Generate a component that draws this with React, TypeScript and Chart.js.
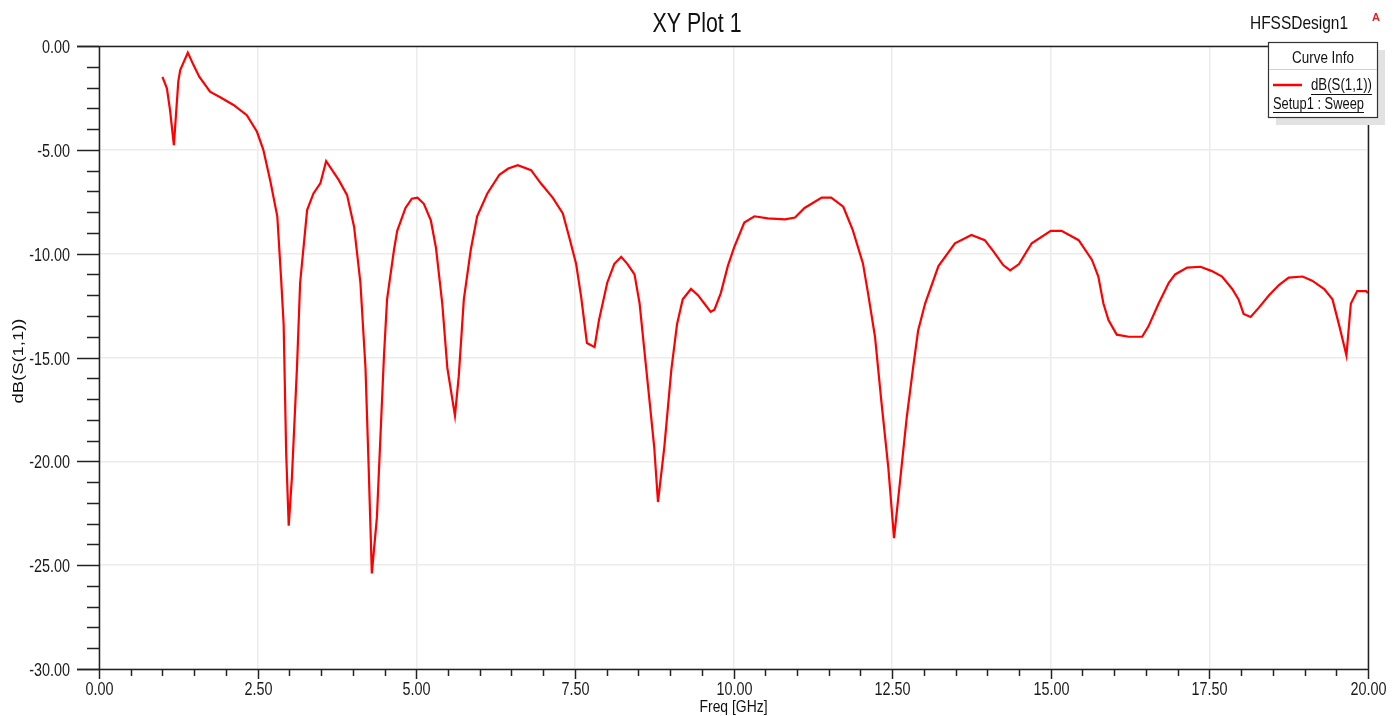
import React, { useEffect, useRef } from "react";
import { Chart, registerables } from "chart.js";

Chart.register(...registerables);

const freqGHz: number[] = [
  1.0, 1.07, 1.12, 1.18, 1.25, 1.28, 1.4, 1.49, 1.58, 1.75, 1.91, 2.12, 2.33, 2.49, 2.59, 2.7, 2.81, 2.87, 2.91, 2.95,
  2.99, 3.04, 3.12, 3.17, 3.28, 3.38, 3.49, 3.58, 3.78, 3.91, 4.02, 4.12, 4.2, 4.25, 4.3, 4.38, 4.49, 4.54, 4.65, 4.7,
  4.83, 4.93, 5.02, 5.12, 5.23, 5.31, 5.41, 5.49, 5.61, 5.67, 5.75, 5.86, 5.96, 6.12, 6.31, 6.45, 6.6, 6.81, 6.96, 7.15,
  7.31, 7.41, 7.52, 7.6, 7.69, 7.81, 7.88, 8.01, 8.12, 8.23, 8.33, 8.44, 8.52, 8.59, 8.67, 8.75, 8.81, 8.91, 9.02, 9.11,
  9.2, 9.33, 9.44, 9.54, 9.64, 9.7, 9.8, 9.91, 10.01, 10.17, 10.33, 10.54, 10.81, 10.97, 11.12, 11.39, 11.54, 11.73, 11.88, 12.04,
  12.12, 12.23, 12.33, 12.44, 12.53, 12.62, 12.73, 12.83, 12.91, 13.02, 13.23, 13.49, 13.75, 13.96, 14.1, 14.25, 14.36, 14.5, 14.7, 15.0,
  15.17, 15.44, 15.65, 15.75, 15.83, 15.91, 16.04, 16.23, 16.44, 16.54, 16.7, 16.86, 16.96, 17.15, 17.36, 17.54, 17.7, 17.86, 17.96, 18.04,
  18.15, 18.28, 18.44, 18.6, 18.75, 18.97, 19.12, 19.31, 19.44, 19.55, 19.66, 19.73, 19.83, 19.97, 20.0,
];

const s11dB: number[] = [
  -1.49, -2.04, -3.1, -4.77, -1.7, -1.16, -0.32, -0.92, -1.48, -2.2, -2.47, -2.84, -3.33, -4.13, -5.0, -6.5, -8.2, -11.2, -13.4, -19.6,
  -23.1, -20.8, -15.5, -11.4, -7.9, -7.1, -6.6, -5.54, -6.46, -7.18, -8.7, -11.4, -15.5, -20.3, -25.4, -22.7, -15.0, -12.2, -9.8, -8.9,
  -7.8, -7.35, -7.3, -7.6, -8.4, -9.7, -12.4, -15.5, -17.8, -15.9, -12.2, -9.8, -8.2, -7.1, -6.2, -5.9, -5.74, -5.98, -6.6, -7.3,
  -8.06, -9.2, -10.5, -12.1, -14.3, -14.5, -13.2, -11.4, -10.5, -10.15, -10.5, -11.0, -12.4, -14.5, -16.9, -19.3, -21.96, -19.3, -15.6, -13.4,
  -12.2, -11.7, -12.0, -12.4, -12.8, -12.7, -11.9, -10.6, -9.7, -8.5, -8.2, -8.3, -8.35, -8.26, -7.8, -7.3, -7.3, -7.74, -8.87, -10.47,
  -11.9, -14.0, -17.1, -20.3, -23.7, -21.1, -17.9, -15.5, -13.7, -12.4, -10.6, -9.5, -9.1, -9.35, -9.9, -10.55, -10.8, -10.5, -9.5, -8.9,
  -8.9, -9.35, -10.3, -11.1, -12.4, -13.2, -13.9, -14.0, -14.0, -13.5, -12.4, -11.4, -11.0, -10.67, -10.63, -10.84, -11.1, -11.7, -12.2, -12.9,
  -13.05, -12.6, -12.0, -11.5, -11.15, -11.1, -11.3, -11.7, -12.2, -13.5, -14.9, -12.4, -11.8, -11.8, -11.9,
];

const chartTitle = "XY Plot 1";
const designName = "HFSSDesign1";
const xAxisTitle = "Freq [GHz]";
const yAxisTitle = "dB(S(1,1))";
const legendHeader = "Curve Info";
const seriesName = "dB(S(1,1))";
const seriesSetup = "Setup1 : Sweep";

const FONT = "'Liberation Sans', Arial, sans-serif";
const TICK_SX = 0.8;

const isMajor = (v: number, step: number) => Math.abs(v / step - Math.round(v / step)) < 1e-6;

// draw condensed text; returns drawn width
function narrowText(
  ctx: CanvasRenderingContext2D,
  text: string,
  x: number,
  y: number,
  size: number,
  align: "left" | "right" | "center",
  opts: { sx?: number; width?: number; rotate?: number } = {}
): number {
  ctx.save();
  ctx.font = `${size}px ${FONT}`;
  const raw = ctx.measureText(text).width;
  const sx = opts.width ? opts.width / raw : opts.sx ?? TICK_SX;
  ctx.translate(x, y);
  if (opts.rotate) ctx.rotate(opts.rotate);
  ctx.scale(sx, 1);
  ctx.textAlign = align;
  ctx.textBaseline = "alphabetic";
  ctx.fillText(text, 0, 0);
  ctx.restore();
  return raw * sx;
}

const decorPlugin = {
  id: "hfssDecor",
  afterDraw(chart: any) {
    const ctx: CanvasRenderingContext2D = chart.ctx;
    const { left, right, top, bottom } = chart.chartArea;
    const xs = chart.scales.x;
    const ys = chart.scales.y;
    ctx.save();
    // axis ticks + labels
    ctx.strokeStyle = "#222";
    ctx.fillStyle = "#1a1a1a";
    ctx.lineWidth = 1.5;
    ys.ticks.forEach((t: any) => {
      const py = Math.round(ys.getPixelForValue(t.value)) + 0.5;
      const major = isMajor(t.value, 5);
      const len = major ? 22 : 12;
      ctx.beginPath();
      ctx.moveTo(left - len, py);
      ctx.lineTo(left, py);
      ctx.stroke();
      if (major) narrowText(ctx, Number(t.value).toFixed(2), left - 29, py + 6.5, 18, "right");
    });
    xs.ticks.forEach((t: any) => {
      const px = Math.round(xs.getPixelForValue(t.value)) + 0.5;
      const major = isMajor(t.value, 2.5);
      const len = major ? 10 : 7;
      ctx.beginPath();
      ctx.moveTo(px, bottom);
      ctx.lineTo(px, bottom + len);
      ctx.stroke();
      if (major) narrowText(ctx, Number(t.value).toFixed(2), px, 695, 18, "center");
    });
    // frame
    ctx.beginPath();
    ctx.moveTo(left - 22, top + 0.5);
    ctx.lineTo(right, top + 0.5);
    ctx.moveTo(left - 22, bottom + 0.5);
    ctx.lineTo(right, bottom + 0.5);
    ctx.moveTo(left + 0.5, top);
    ctx.lineTo(left + 0.5, bottom);
    ctx.moveTo(right + 0.5, top);
    ctx.lineTo(right + 0.5, bottom);
    ctx.stroke();

    // titles
    ctx.fillStyle = "#111";
    narrowText(ctx, chartTitle, 697, 32, 27, "center", { width: 89 });
    narrowText(ctx, designName, 1250, 29, 19, "left", { width: 98 });
    ctx.fillStyle = "#e02020";
    ctx.font = `bold 11px ${FONT}`;
    ctx.textAlign = "left";
    ctx.fillText("A", 1372, 21);

    ctx.fillStyle = "#111";
    narrowText(ctx, xAxisTitle, (left + right) / 2, 712, 17, "center", { width: 68 });
    narrowText(ctx, yAxisTitle, 23, 361, 14, "center", { width: 85, rotate: -Math.PI / 2 });

    // legend box
    const bx = 1268, by = 42, bw = 109, bh = 75;
    ctx.fillStyle = "#e2e2e2";
    ctx.fillRect(bx + 8, by + 8, bw, bh);
    ctx.fillStyle = "#ffffff";
    ctx.fillRect(bx, by, bw, bh);
    ctx.strokeStyle = "#333";
    ctx.lineWidth = 1.2;
    ctx.strokeRect(bx + 0.5, by + 0.5, bw, bh);
    ctx.strokeStyle = "#d0d0d0";
    ctx.lineWidth = 1;
    ctx.beginPath();
    ctx.moveTo(bx + 1, by + 27.5);
    ctx.lineTo(bx + bw, by + 27.5);
    ctx.stroke();
    ctx.fillStyle = "#111";
    narrowText(ctx, legendHeader, bx + bw / 2 + 0.5, 63, 16, "center", { width: 62 });
    ctx.strokeStyle = "#ff0000";
    ctx.lineWidth = 2.5;
    ctx.beginPath();
    ctx.moveTo(1273, 85);
    ctx.lineTo(1302, 85);
    ctx.stroke();
    ctx.fillStyle = "#111";
    const w1 = narrowText(ctx, seriesName, 1372, 90, 16, "right", { width: 61 });
    const w2 = narrowText(ctx, seriesSetup, 1273, 109, 16, "left", { width: 91 });
    ctx.strokeStyle = "#111";
    ctx.lineWidth = 1;
    ctx.beginPath();
    ctx.moveTo(1372 - w1, 94.5);
    ctx.lineTo(1372, 94.5);
    ctx.moveTo(1273, 112.5);
    ctx.lineTo(1273 + w2, 112.5);
    ctx.stroke();
    ctx.restore();
  },
};

export default function App() {
  const canvasRef = useRef<HTMLCanvasElement | null>(null);

  useEffect(() => {
    if (!canvasRef.current) return;
    const chart = new Chart(canvasRef.current, {
      type: "line",
      data: {
        datasets: [
          {
            label: seriesName,
            data: freqGHz.map((f, i) => ({ x: f, y: s11dB[i] })),
            borderColor: "#ff0000",
            borderWidth: 2.2,
            pointRadius: 0,
            tension: 0,
            fill: false,
          },
        ],
      },
      options: {
        animation: false,
        responsive: false,
        devicePixelRatio: 1,
        layout: { padding: { top: 46, right: 32, left: 0, bottom: 0 } },
        plugins: { legend: { display: false }, tooltip: { enabled: false }, title: { display: false } },
        scales: {
          x: {
            type: "linear",
            min: 0,
            max: 20,
            afterFit: (s: any) => {
              s.height = 47;
            },
            border: { display: false },
            grid: {
              drawTicks: false,
              color: (c: any) => (c.tick && isMajor(c.tick.value, 2.5) ? "#ececec" : "rgba(0,0,0,0)"),
              lineWidth: 1.5,
            },
            ticks: { stepSize: 0.5, autoSkip: false, maxRotation: 0, display: false },
          },
          y: {
            type: "linear",
            min: -30,
            max: 0,
            afterFit: (s: any) => {
              s.width = 99;
            },
            border: { display: false },
            grid: {
              drawTicks: false,
              color: (c: any) => (c.tick && isMajor(c.tick.value, 5) ? "#ececec" : "rgba(0,0,0,0)"),
              lineWidth: 1.5,
            },
            ticks: { stepSize: 1, autoSkip: false, display: false },
          },
        },
      },
      plugins: [decorPlugin],
    });
    return () => chart.destroy();
  }, []);

  return (
    <div style={{ position: "absolute", left: 0, top: 0, width: 1400, height: 716, background: "#fff" }}>
      <canvas ref={canvasRef} width={1400} height={716} style={{ display: "block" }} />
    </div>
  );
}
